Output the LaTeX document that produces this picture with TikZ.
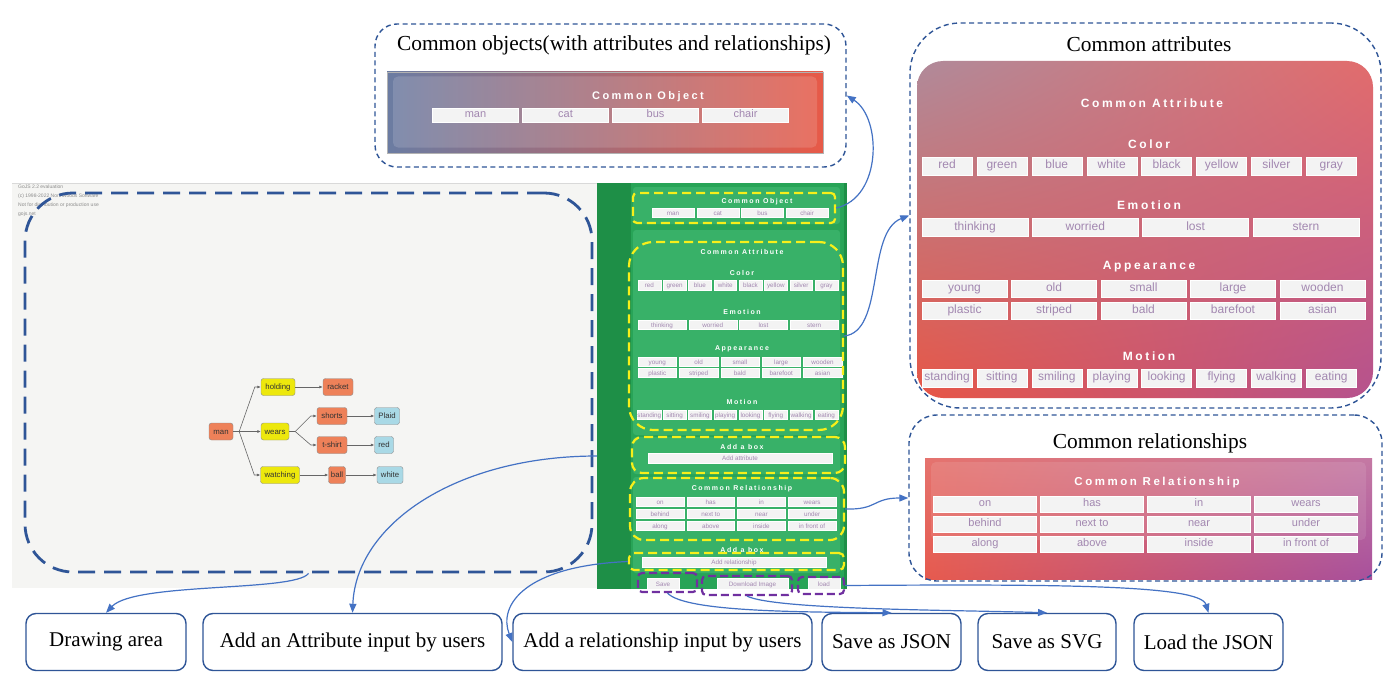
\documentclass[tikz,border=0pt]{standalone}
\usepackage{fontspec}
\usepackage{tikz}
\usetikzlibrary{arrows.meta,shadings}
\setmainfont{Liberation Serif}
\newfontfamily\uifont{Liberation Sans}
\newfontfamily\spfont[LetterSpace=22]{Liberation Sans}
\definecolor{dblue}{HTML}{2F5597}
\definecolor{ablue}{HTML}{4472C4}
\definecolor{shot}{HTML}{F5F5F3}
\definecolor{gdark}{HTML}{1E8F47}
\definecolor{gmid}{HTML}{28A457}
\definecolor{gcard}{HTML}{38B168}
\definecolor{ylw}{HTML}{F7EF1A}
\definecolor{prp}{HTML}{7030A0}
\definecolor{tagfill}{HTML}{F3F3F3}
\definecolor{tagtxt}{HTML}{A287B0}
\definecolor{nobj}{HTML}{EE8159}
\definecolor{nrel}{HTML}{EDE80C}
\definecolor{natt}{HTML}{A9D9E6}
\definecolor{oleft}{HTML}{6B7CA2}
\definecolor{omid}{HTML}{AD7483}
\definecolor{oright}{HTML}{E75A48}
\definecolor{att1}{HTML}{B08A9A}
\definecolor{att2}{HTML}{E26C6C}
\definecolor{att3}{HTML}{E75646}
\definecolor{att4}{HTML}{B5528E}
\definecolor{rel1}{HTML}{E5736E}
\definecolor{rel2}{HTML}{C479A4}
\definecolor{rel3}{HTML}{E65A4E}
\definecolor{rel4}{HTML}{A8509C}

\begin{document}
\begin{tikzpicture}[x=1pt,y=-1pt,
  obj/.style={draw=black!45,rounded corners=2.5pt,fill=nobj,minimum height=17pt,inner xsep=1.5pt,inner ysep=0pt,text height=0.72em,text depth=0.2em,text=black!80,font=\uifont\fontsize{7.8}{9}\selectfont},
  rel/.style={obj,fill=nrel},
  att/.style={obj,fill=natt},
  ln/.style={draw=black!60,line width=0.6pt,-{Latex[length=3.5pt,width=3pt]}},
  tagbox/.style={fill=tagfill,draw=white,line width=0.3pt,inner sep=0pt,text height=0.72em,text depth=0.2em,text=tagtxt,font=\uifont\fontsize{#1}{#1}\selectfont},
  hd/.style={text=white,inner sep=0pt,font=\spfont\bfseries\fontsize{#1}{#1}\selectfont},
  card/.style={fill=gcard,rounded corners=3pt,inner sep=0pt},
  bigdash/.style={draw=dblue,line width=2.8pt,dash pattern=on 17pt off 9pt,rounded corners=48pt,inner sep=0pt},
  thindash/.style={draw=dblue,line width=1.4pt,dash pattern=on 5pt off 3.5pt,inner sep=0pt},
  ydash/.style={draw=ylw,line width=2.2pt,dash pattern=on 9pt off 5pt,inner sep=0pt},
  pdash/.style={draw=prp,line width=2.2pt,dash pattern=on 8pt off 4pt,rounded corners=4pt,inner sep=0pt},
  title/.style={inner sep=0pt,font=\fontsize{21.4}{25}\selectfont},
  lbl/.style={draw=dblue,line width=1.4pt,rounded corners=10pt,minimum height=57pt,font=\fontsize{21}{25}\selectfont},
  arr/.style={draw=ablue,line width=1.2pt,-{Triangle[length=9pt,width=7pt]}}]
\useasboundingbox (0,0) rectangle (1392,677);
\fill[white] (0,0) rectangle (1392,677);
\fill[shot] (12,183) rectangle (597,588);
\draw[black!15] (12,183.5) -- (597,183.5);
\node[anchor=north west,align=left,inner sep=0pt,text=black!45,font=\uifont\fontsize{5}{9}\selectfont] (wm) at (18,185) {GoJS 2.2 evaluation\\(c) 1998-2022 Northwoods Software\\Not for distribution or production use\\gojs.net};

\node[obj,minimum width=24pt] (man) at (221,431.5) {man};
\node[rel,minimum width=34pt] (holding) at (278,387) {holding};
\node[obj,minimum width=30pt] (racket) at (338,387) {racket};
\node[rel,minimum width=28pt] (wears) at (275,431.5) {wears};
\node[obj,minimum width=30pt] (shorts) at (332,416) {shorts};
\node[att,minimum width=25pt] (plaid) at (387,416) {Plaid};
\node[obj,minimum width=30pt] (tshirt) at (332,445) {t-shirt};
\node[att,minimum width=19pt] (nred) at (384,445) {red};
\node[rel,minimum width=39pt] (watching) at (280,475) {watching};
\node[obj,minimum width=17pt] (ball) at (337,475) {ball};
\node[att,minimum width=26pt] (nwhite) at (390,475) {white};
\draw[ln] (man.east) -- ++(6,0) -- ([xshift=-6pt]holding.west) -- (holding.west);
\draw[ln] (man.east) -- (wears.west);
\draw[ln] (man.east) -- ++(6,0) -- ([xshift=-6pt]watching.west) -- (watching.west);
\draw[ln] (wears.east) -- ++(6,0) -- ([xshift=-6pt]shorts.west) -- (shorts.west);
\draw[ln] (wears.east) -- ++(6,0) -- ([xshift=-6pt]tshirt.west) -- (tshirt.west);
\draw[ln] (holding) -- (racket);
\draw[ln] (shorts) -- (plaid);
\draw[ln] (tshirt) -- (nred);
\draw[ln] (watching) -- (ball);
\draw[ln] (ball) -- (nwhite);

\fill[gdark] (597,183) rectangle (847,589);
\fill[gmid] (631,183) rectangle (844,589);
\node[card,minimum width=207pt,minimum height=37pt] (cobj) at (736.5,205.5) {};
\node[card,minimum width=207pt,minimum height=205pt] (cattr) at (736.5,332.5) {};
\node[card,minimum width=207pt,minimum height=37pt] (cadd) at (736.5,455.5) {};
\node[card,minimum width=207pt,minimum height=96pt] (crel) at (736.5,525) {};
\node[hd=7] (gh1) at (757,202) {Common Object};
\foreach \w [count=\i from 0] in {man,cat,bus,chair}
  \node[tagbox=6.3,minimum width=42pt,minimum height=8pt] (go\i) at (673+\i*44.7,213) {\w};
\node[hd=7] (gh2) at (742,252) {Common Attribute};
\node[hd=7] (gh3) at (742,273) {Color};
\foreach \w [count=\i from 0] in {red,green,blue,white,black,yellow,silver,gray}
  \node[tagbox=6.3,minimum width=22.7pt,minimum height=10pt] (gc\i) at (649.3+\i*25.3,285) {\w};
\node[hd=7] (gh4) at (742,312) {Emotion};
\foreach \w [count=\i from 0] in {thinking,worried,lost,stern}
  \node[tagbox=6.3,minimum width=48pt,minimum height=9pt] (ge\i) at (662+\i*50.7,325) {\w};
\node[hd=7] (gh5) at (742,349) {Appearance};
\foreach \w [count=\i from 0] in {young,old,small,large,wooden}
  \node[tagbox=6.3,minimum width=38.5pt,minimum height=9pt] (ga\i) at (657.3+\i*41.3,361.5) {\w};
\foreach \w [count=\i from 0] in {plastic,striped,bald,barefoot,asian}
  \node[tagbox=6.3,minimum width=38.5pt,minimum height=9pt] (gb\i) at (657.3+\i*41.3,373) {\w};
\node[hd=7] (gh6) at (742,402) {Motion};
\foreach \w [count=\i from 0] in {standing,sitting,smiling,playing,looking,flying,walking,eating}
  \node[tagbox=6.3,minimum width=22.7pt,minimum height=9pt] (gm\i) at (649.3+\i*25.3,414.5) {\w};
\node[hd=7] (gh7) at (742,447) {Add a box};
\node[tagbox=6.3,minimum width=184pt,minimum height=10pt] (gin1) at (740,458) {Add attribute};
\node[hd=7] (gh8) at (742,489) {Common Relationship};
\foreach \r/\row in {0/{on,has,in,wears},1/{behind,next to,near,under},2/{along,above,inside,in front of}}
  \foreach \w [count=\i from 0] in \row
    \node[tagbox=6.3,minimum width=47.7pt,minimum height=9pt] (gr\r\i) at (660+\i*50.7,501.5+\r*12) {\w};
\node[hd=7] (gh9) at (742,550) {Add a box};
\node[tagbox=6.3,minimum width=184pt,minimum height=10pt] (gin2) at (734,562) {Add relationship};
\node[tagbox=6.3,minimum width=32pt,minimum height=11pt] (bsave) at (663,583.5) {Save};
\node[tagbox=6.3,minimum width=71pt,minimum height=11pt] (bdl) at (752.5,583.5) {Download Image};
\node[tagbox=6.3,minimum width=32pt,minimum height=11pt] (bload) at (824,583.5) {load};

\node[ydash,rounded corners=4pt,minimum width=202pt,minimum height=30pt] (yobj) at (734,208) {};
\node[ydash,rounded corners=24pt,minimum width=214pt,minimum height=188pt] (yatt) at (736,336) {};
\node[ydash,rounded corners=10pt,minimum width=213pt,minimum height=36pt] (yadd1) at (738.5,455) {};
\node[ydash,rounded corners=14pt,minimum width=214pt,minimum height=62pt] (yrel) at (737,509) {};
\node[ydash,rounded corners=5pt,minimum width=215pt,minimum height=17pt] (yadd2) at (736.5,561.5) {};
\node[pdash,minimum width=59pt,minimum height=19pt] (psave) at (667.5,582.5) {};
\node[pdash,minimum width=90pt,minimum height=19pt] (pdl) at (747,585.5) {};
\node[pdash,minimum width=46pt,minimum height=17pt] (pload) at (821,585.5) {};
\node[bigdash,minimum width=567pt,minimum height=379pt] (darea) at (308.5,382.5) {};

\node[inner sep=0pt,draw=black!30,line width=0.6pt,minimum width=436pt,minimum height=81pt,left color=oleft,middle color=omid,right color=oright] (objpan) at (605,112.5) {};
\node[fill=white,fill opacity=0.14,rounded corners=5pt,inner sep=0pt,minimum width=424pt,minimum height=71pt] (objin) at (605,112) {};
\node[hd=11] (ph1) at (648,97) {Common Object};
\foreach \w [count=\i from 0] in {man,cat,bus,chair}
  \node[tagbox=11,minimum width=86pt,minimum height=14pt] (po\i) at (475.5+\i*90,115) {\w};

\node[inner sep=0pt,rounded corners=26pt,minimum width=456pt,minimum height=337pt,upper left=att1,upper right=att2,lower left=att3,lower right=att4] (attpan) at (1145,229.5) {};
\node[hd=12] (ph2) at (1152,103) {Common Attribute};
\node[hd=12] (ph3) at (1149,144) {Color};
\foreach \w [count=\i from 0] in {red,green,blue,white,black,yellow,silver,gray}
  \node[tagbox=12,minimum width=50pt,minimum height=18pt] (pc\i) at (947+\i*54.9,166) {\w};
\node[hd=12] (ph4) at (1149,205) {Emotion};
\foreach \w [count=\i from 0] in {thinking,worried,lost,stern}
  \node[tagbox=12,minimum width=106pt,minimum height=18pt] (pe\i) at (975+\i*110.3,227.5) {\w};
\node[hd=12] (ph5) at (1149,267) {Appearance};
\foreach \w [count=\i from 0] in {young,old,small,large,wooden}
  \node[tagbox=12,minimum width=85pt,minimum height=17pt] (pa\i) at (964.5+\i*89.5,289) {\w};
\foreach \w [count=\i from 0] in {plastic,striped,bald,barefoot,asian}
  \node[tagbox=12,minimum width=85pt,minimum height=17pt] (pb\i) at (964.5+\i*89.5,310.5) {\w};
\node[hd=12] (ph6) at (1149,356) {Motion};
\foreach \w [count=\i from 0] in {standing,sitting,smiling,playing,looking,flying,walking,eating}
  \node[tagbox=12,minimum width=50pt,minimum height=18pt] (pm\i) at (947+\i*54.9,378) {\w};

\node[inner sep=0pt,minimum width=447pt,minimum height=121pt,upper left=rel1,upper right=rel2,lower left=rel3,lower right=rel4] (relpan) at (1148.5,518.5) {};
\node[fill=white,fill opacity=0.1,rounded corners=5pt,inner sep=0pt,minimum width=435pt,minimum height=78pt] (relin) at (1148.5,501) {};
\node[hd=11.5] (ph7) at (1157,483) {Common Relationship};
\foreach \r/\row in {0/{on,has,in,wears},1/{behind,next to,near,under},2/{along,above,inside,in front of}}
  \foreach \w [count=\i from 0] in \row
    \node[tagbox=11,minimum width=103pt,minimum height=16pt] (pr\r\i) at (985+\i*107,504+\r*20) {\w};

\node[thindash,rounded corners=22pt,minimum width=471pt,minimum height=143pt] (objbox) at (610.5,95.5) {};
\node[thindash,rounded corners=50pt,minimum width=471pt,minimum height=385pt] (attbox) at (1145.5,215.5) {};
\node[thindash,rounded corners=28pt,minimum width=473pt,minimum height=166pt] (relbox) at (1145.5,498) {};
\node[title] (tobj) at (614,45) {Common objects(with attributes and relationships)};
\node[title] (tatt) at (1149,44) {Common attributes};
\node[title] (trel) at (1150,443) {Common relationships};

\node[lbl,minimum width=160pt] (lda) at (106,642) {Drawing area};
\node[lbl,minimum width=299pt] (lattr) at (352.5,642) {Add an Attribute input by users};
\node[lbl,minimum width=299pt] (lrel) at (662.5,642) {Add a relationship input by users};
\node[lbl,minimum width=139pt] (ljson) at (891.5,642) {Save as JSON};
\node[lbl,minimum width=138pt] (lsvg) at (1047,642) {Save as SVG};
\node[lbl,minimum width=149pt] (lload) at (1208.5,642) {Load the JSON};

\coordinate (aa) at (597,456);
\draw[arr] (yobj.east) .. controls (882,198) and (882,118) .. (objbox.east);
\draw[arr] (yatt.east) .. controls (885,332) and (866,232) .. (attbox.west);
\draw[arr] (yrel.east) .. controls (878,510) and (872,498) .. (relbox.west);
\draw[arr] (darea.south) .. controls (295,592) and (135,582) .. (lda.north);
\draw[arr] (aa) .. controls (455,456) and (356,525) .. (lattr.north);
\draw[arr] (yadd2.west) .. controls (525,566) and (498,605) .. (lrel.west);
\draw[arr] (psave.south) .. controls (685,612) and (800,612) .. (ljson.north);
\draw[arr] (pdl.south) .. controls (775,610) and (960,610) .. (lsvg.north);
\draw[arr] (pload.east) .. controls (1060,584) and (1200,585) .. (lload.north);
\end{tikzpicture}
\end{document}
